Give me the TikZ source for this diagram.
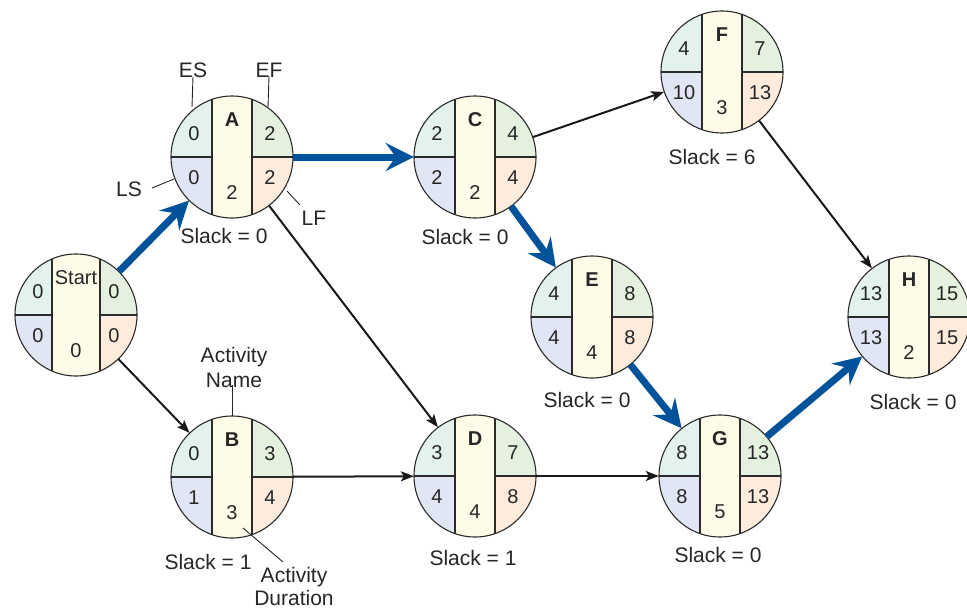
\documentclass[tikz,border=0pt]{standalone}
\usepackage{fontspec}
\setmainfont{Liberation Sans}
\usetikzlibrary{arrows.meta}
\definecolor{esc}{HTML}{E3F2EF}
\definecolor{efc}{HTML}{E5F1DF}
\definecolor{lsc}{HTML}{E1E6F4}
\definecolor{lfc}{HTML}{FDEBDC}
\definecolor{durc}{HTML}{FEFBE8}
\definecolor{critblue}{HTML}{00529B}
\definecolor{outl}{HTML}{2B2B2B}
\tikzset{
  cellline/.style={draw=outl, line width=1.1pt},
  celltxt/.style={font=\fontsize{20}{22}\selectfont, inner sep=0pt, text=black!85},
  nametxt/.style={font=\fontsize{20}{22}\selectfont\bfseries, inner sep=0pt, text=black!85},
  lbl/.style={font=\fontsize{21}{25}\selectfont, inner sep=0pt, text=black!85, align=center},
  annot/.style={draw=black!85, line width=0.9pt},
  crit/.style={draw=critblue, line width=7pt, -{Stealth[length=28pt,width=28pt,inset=10pt]}},
  norm/.style={draw=black!90, line width=2pt, -{Stealth[length=13pt,width=10pt,inset=3pt]}},
  pertcircle/.style={circle, minimum size=122pt, inner sep=0pt}
}
% #1 name, #2 x,y, #3 half width of centre column, #4 ES, #5 EF, #6 LS, #7 LF, #8 title, #9 duration
\newcommand{\pertnode}[9]{%
  \begin{scope}[shift={(#2)}]
    \begin{scope}
      \clip (0,0) circle (61);
      \fill[esc] (-70,-70) rectangle (0,0);
      \fill[efc] (0,-70) rectangle (70,0);
      \fill[lsc] (-70,0) rectangle (0,70);
      \fill[lfc] (0,0) rectangle (70,70);
      \fill[durc] (-#3,-70) rectangle (#3,70);
      \draw[cellline] (-70,0) -- (-#3,0) (#3,0) -- (70,0);
      \draw[cellline] (-#3,-70) -- (-#3,70) (#3,-70) -- (#3,70);
    \end{scope}
    \draw[cellline] (0,0) circle (61);
    \node[celltxt] (#1-es) at (-38,-23) {#4};
    \node[celltxt] (#1-ef) at (38,-23) {#5};
    \node[celltxt] (#1-ls) at (-38,21) {#6};
    \node[celltxt] (#1-lf) at (38,21) {#7};
    \node[nametxt] (#1-name) at (0,-37) {#8};
    \node[celltxt] (#1-dur) at (0,36) {#9};
  \end{scope}
  \node[pertcircle] (#1) at (#2) {};
}
\begin{document}
\begin{tikzpicture}[x=1pt, y=-1pt]
\useasboundingbox (0,0) rectangle (967,610);
\pertnode{St}{76,315}{24}{0}{0}{0}{0}{\mdseries Start}{0}
\pertnode{A}{232,157}{20}{0}{2}{0}{2}{A}{2}
\pertnode{B}{232,477}{20}{0}{3}{1}{4}{B}{3}
\pertnode{C}{475,157}{20}{2}{4}{2}{4}{C}{2}
\pertnode{D}{475,476}{20}{3}{7}{4}{8}{D}{4}
\pertnode{E}{592,317}{20}{4}{8}{4}{8}{E}{4}
\pertnode{F}{722,72}{20}{4}{7}{10}{13}{F}{3}
\pertnode{G}{720,476}{20}{8}{13}{8}{13}{G}{5}
\pertnode{H}{909,317}{20}{13}{15}{13}{15}{H}{2}

% slack labels
\node[lbl] (sA) at (224,236) {Slack = 0};
\node[lbl] (sB) at (208,562) {Slack = 1};
\node[lbl] (sC) at (465,237) {Slack = 0};
\node[lbl] (sD) at (473,558) {Slack = 1};
\node[lbl] (sE) at (587,400) {Slack = 0};
\node[lbl] (sF) at (712,157) {Slack = 6};
\node[lbl] (sG) at (718,555) {Slack = 0};
\node[lbl] (sH) at (913,402) {Slack = 0};

% legend annotations
\node[lbl] (lES) at (193,70) {ES};
\node[lbl] (lEF) at (269,70) {EF};
\node[lbl] (lLS) at (129,189) {LS};
\node[lbl] (lLF) at (314,218) {LF};
\node[lbl] (lAN) at (234,367) {Activity\\Name};
\node[lbl, font=\fontsize{21}{23}\selectfont] (lAD) at (294,586) {Activity\\Duration};
\coordinate (pES) at (192,107);
\coordinate (pEF) at (268,107);
\coordinate (pLS) at (174,179);
\coordinate (pLF) at (300,205);
\coordinate (pAN) at (232,416);
\coordinate (pAD) at (243,528);
\draw[annot] (lES.south) ++(0,-1) -- (pES);
\draw[annot] (lEF.south) ++(0,-1) -- (pEF);
\draw[annot] (152,188) -- (pLS);
\draw[annot] (287,191) -- (pLF);
\draw[annot] (lAN.south) ++(-2,-2) -- (pAN);
\draw[annot] (283,562) -- (pAD);

% connectors
\draw[crit] (St) -- (A);
\draw[norm] (St) -- (B);
\draw[crit] (A) -- (C);
\draw[norm] (A) -- (D);
\draw[norm] (B) -- (D);
\draw[norm] (C) -- (F);
\draw[crit] (C) -- (E);
\draw[crit] (E) -- (G);
\draw[norm] (D) -- (G);
\draw[norm] (F) -- (H);
\draw[crit] (G) -- (H);
\end{tikzpicture}
\end{document}
